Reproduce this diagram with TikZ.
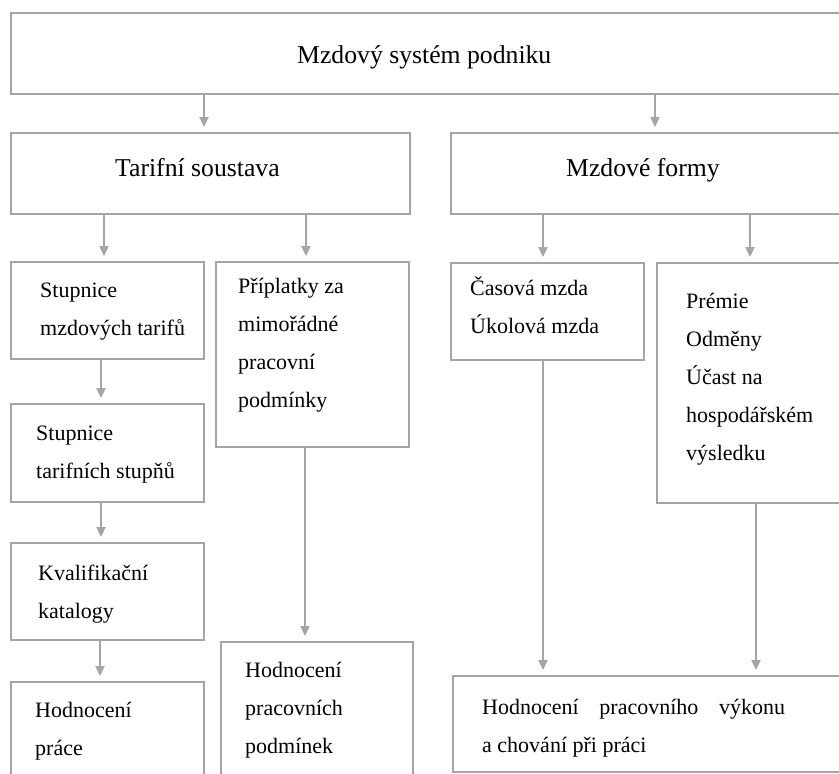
\documentclass[tikz,border=0pt]{standalone}
\usepackage{fontspec}
\setmainfont{Liberation Serif}
\usetikzlibrary{arrows.meta}
\definecolor{linegray}{HTML}{A5A5A5}
\tikzset{
  box/.style={draw=linegray, line width=1.8pt, inner sep=0pt},
  head/.style={inner sep=0pt, anchor=base west, font=\fontsize{25.7}{30}\selectfont},
  txt/.style={inner sep=0pt, anchor=base west, align=left, font=\fontsize{22}{38}\selectfont},
  arr/.style={draw=linegray, line width=1.8pt, -{Triangle[length=10pt,width=9pt]}, shorten >=5pt}
}
\begin{document}
\begin{tikzpicture}[x=1pt, y=-1pt]
    \useasboundingbox (0,0) rectangle (839,774);
    \clip (0,0) rectangle (839,774);

    % rámečky
    \node[box, minimum width=831pt, minimum height=81pt] (system) at (426.5, 53.5) {};
    \node[box, minimum width=399pt, minimum height=81pt] (tarif) at (210.5, 173.5) {};
    \node[box, minimum width=391pt, minimum height=81pt] (formy) at (646.5, 173.5) {};
    \node[box, minimum width=193pt, minimum height=97pt] (stupnice) at (107.5, 310.5) {};
    \node[box, minimum width=193pt, minimum height=185pt] (priplatky) at (312.5, 354.5) {};
    \node[box, minimum width=193pt, minimum height=97pt] (casova) at (547.5, 311.5) {};
    \node[box, minimum width=185pt, minimum height=240pt] (premie) at (749.5, 383) {};
    \node[box, minimum width=193pt, minimum height=98pt] (stupne) at (107.5, 453) {};
    \node[box, minimum width=193pt, minimum height=97pt] (katalogy) at (107.5, 591.5) {};
    \node[box, minimum width=193pt, minimum height=108pt] (hodnoceni) at (107.5, 736) {};
    \node[box, minimum width=192pt, minimum height=148pt] (podminky) at (317, 716) {};
    \node[box, minimum width=389pt, minimum height=96pt] (vykon) at (647.5, 724) {};

    % šipky
    \draw[arr] (system.south -| 204,0) -- (tarif.north -| 204,0);
    \draw[arr] (system.south -| 655,0) -- (formy.north -| 655,0);
    \draw[arr] (tarif.south -| 104,0) -- (stupnice.north -| 104,0);
    \draw[arr] (tarif.south -| 306,0) -- (priplatky.north -| 306,0);
    \draw[arr] (formy.south -| 543,0) -- (casova.north -| 543,0);
    \draw[arr] (formy.south -| 750,0) -- (premie.north -| 750,0);
    \draw[arr] (stupnice.south -| 101,0) -- (stupne.north -| 101,0);
    \draw[arr] (stupne.south -| 101,0) -- (katalogy.north -| 101,0);
    \draw[arr] (katalogy.south -| 100,0) -- (hodnoceni.north -| 100,0);
    \draw[arr] (priplatky.south -| 305,0) -- (podminky.north -| 305,0);
    \draw[arr] (casova.south -| 543,0) -- (vykon.north -| 543,0);
    \draw[arr] (premie.south -| 756,0) -- (vykon.north -| 756,0);

    % texty (base = poslední řádek)
    \node[head] (tSystem) at (297, 63) {Mzdový systém podniku};
    \node[head] (tTarif) at (115, 176) {Tarifní soustava};
    \node[head] (tFormy) at (566, 176) {Mzdové formy};
    \node[txt] (tStupnice) at (40, 335) {Stupnice\\mzdových tarifů};
    \node[txt] (tPriplatky) at (238, 407) {Příplatky za\\mimořádné\\pracovní\\podmínky};
    \node[txt] (tCasova) at (470, 333) {Časová mzda\\Úkolová mzda};
    \node[txt] (tPremie) at (686, 460) {Prémie\\Odměny\\Účast na\\hospodářském\\výsledku};
    \node[txt] (tStupne) at (36, 478) {Stupnice\\tarifních stupňů};
    \node[txt] (tKatalogy) at (38, 618) {Kvalifikační\\katalogy};
    \node[txt] (tHodnoceni) at (35, 755) {Hodnocení\\práce};
    \node[txt] (tPodminky) at (245, 753) {Hodnocení\\pracovních\\podmínek};
    \node[txt] (tVykon) at (482, 752) {\makebox[303pt][s]{Hodnocení pracovního výkonu}\\a chování při práci};

\end{tikzpicture}
\end{document}
